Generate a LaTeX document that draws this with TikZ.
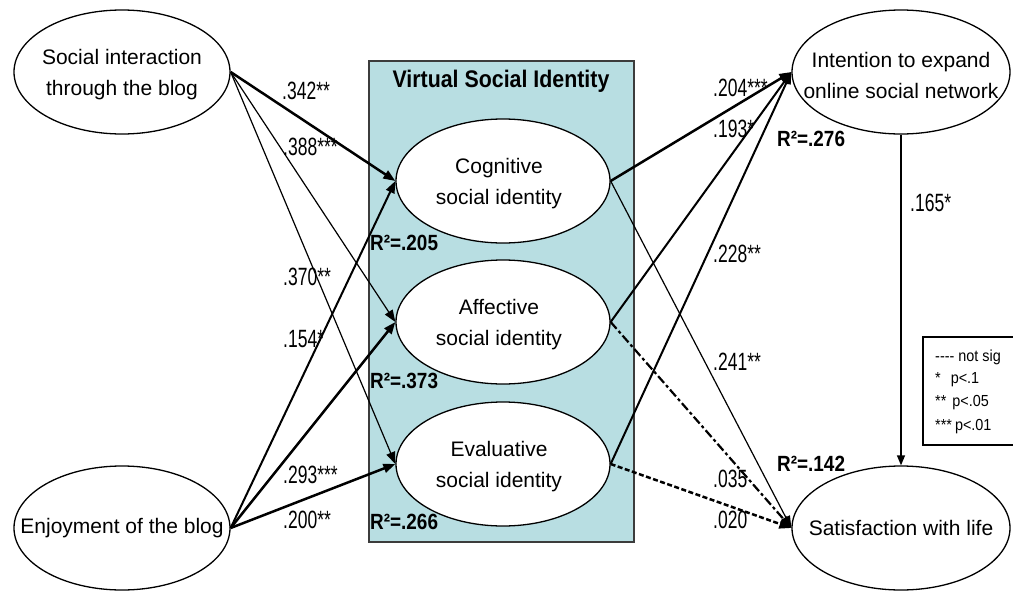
\documentclass[tikz,border=0pt]{standalone}
\usepackage{fontspec}
\setmainfont{Liberation Sans}
\newfontfamily\numfont[FakeStretch=0.70]{Liberation Sans}
\newfontfamily\rsqfont[FakeStretch=0.86]{Liberation Sans}
\newfontfamily\titlefont[FakeStretch=0.89]{Liberation Sans}
\newfontfamily\keyfont[FakeStretch=0.9]{Liberation Sans}
\usetikzlibrary{shapes.geometric,arrows.meta}
\definecolor{vsibox}{RGB}{184,222,226}
\definecolor{boxedge}{RGB}{60,60,60}

\begin{document}
\begin{tikzpicture}[x=1pt,y=-1pt,
  construct/.style={ellipse,draw=black,line width=1.3pt,fill=white,inner sep=0pt,
    minimum width=#1,minimum height=124pt},
  ctext/.style={align=center,inner sep=0pt,font=\fontsize{21}{31}\selectfont},
  coef/.style={anchor=west,inner sep=0pt,font=\numfont\fontsize{25}{25}\selectfont},
  rsq/.style={anchor=west,inner sep=0pt,font=\rsqfont\bfseries\fontsize{22}{22}\selectfont},
  keytext/.style={anchor=west,inner sep=0pt,font=\keyfont\fontsize{16}{16}\selectfont},
  link/.style={-{Triangle[length=12pt,width=9pt]},line width=#1},
]
\useasboundingbox (0,0) rectangle (1013,592);
\clip (0,0) rectangle (1013,592);

% Virtual Social Identity block
\draw[fill=vsibox,draw=boxedge,line width=2pt] (369,61) rectangle (634,542);
\node[inner sep=0pt,font=\titlefont\bfseries\fontsize{24}{24}\selectfont] (vsititle) at (501,81) {Virtual Social Identity};

% constructs
\node[construct=216pt] (soc) at (122,72) {};
\node[construct=216pt] (enj) at (122,528) {};
\node[construct=214pt] (cog) at (503,181) {};
\node[construct=214pt] (aff) at (503,322) {};
\node[construct=214pt] (eva) at (503,464) {};
\node[construct=218pt] (int) at (901,72) {};
\node[construct=218pt] (sat) at (901,528) {};

\node[ctext] (soct) at (122,75) {Social interaction\\through the blog};
\node[ctext] (enjt) at (122,528) {Enjoyment of the blog};
\node[ctext] (cogt) at (499,184) {Cognitive\\social identity};
\node[ctext] (afft) at (499,325) {Affective\\social identity};
\node[ctext] (evat) at (499,467) {Evaluative\\social identity};
\node[ctext] (intt) at (901,75) {Intention to expand\\online social network};
\node[ctext] (satt) at (901,528) {Satisfaction with life};

% paths
\draw[link=2.5pt] (soc.east) -- (cog.west);
\draw[link=1.2pt] (soc.east) -- (aff.west);
\draw[link=1.2pt] (soc.east) -- (eva.west);
\draw[link=2pt]   (enj.east) -- (cog.west);
\draw[link=2.5pt] (enj.east) -- (aff.west);
\draw[link=2.5pt] (enj.east) -- (eva.west);
\draw[link=2.5pt] (cog.east) -- (int.west);
\draw[link=2pt]   (aff.east) -- (int.west);
\draw[link=2pt]   (eva.east) -- (int.west);
\draw[link=1.2pt] (cog.east) -- (sat.west);
\draw[link=2.2pt,dash pattern=on 9pt off 3pt on 3pt off 3pt] (aff.east) -- (sat.west);
\draw[link=2.5pt,dash pattern=on 5pt off 2.5pt] (eva.east) -- (sat.west);
\draw[-{Triangle[length=10pt,width=8pt]},line width=1.3pt] (int.south) -- (sat.north);

% path coefficients
\node[coef] (c1)  at (282,91)  {.342**};
\node[coef] (c2)  at (283,147) {.388***};
\node[coef] (c3)  at (283,277) {.370**};
\node[coef] (c4)  at (283,339) {.154*};
\node[coef] (c5)  at (283,475) {.293***};
\node[coef] (c6)  at (283,520) {.200**};
\node[coef] (c7)  at (713,88)  {.204***};
\node[coef] (c8)  at (713,129) {.193*};
\node[coef] (c9)  at (713,254) {.228**};
\node[coef] (c10) at (713,362) {.241**};
\node[coef] (c11) at (713,479) {.035};
\node[coef] (c12) at (713,520) {.020};
\node[coef] (c13) at (910,203) {.165*};

% explained variance
\node[rsq] (r1) at (370,243) {R²=.205};
\node[rsq] (r2) at (370,381) {R²=.373};
\node[rsq] (r3) at (370,522) {R²=.266};
\node[rsq] (r4) at (777,139) {R²=.276};
\node[rsq] (r5) at (777,464) {R²=.142};

% significance key
\draw[line width=1.5pt] (1015,337) -| (923,445) -- (1015,445);
\node[keytext] (k1) at (935,357) {-{}-{}-{}- not sig};
\node[keytext] (k2) at (935,380) {*\hspace{10pt}p<.1};
\node[keytext] (k3) at (935,403) {**\hspace{6pt}p<.05};
\node[keytext] (k4) at (935,427) {***\hspace{3pt}p<.01};
\end{tikzpicture}
\end{document}
